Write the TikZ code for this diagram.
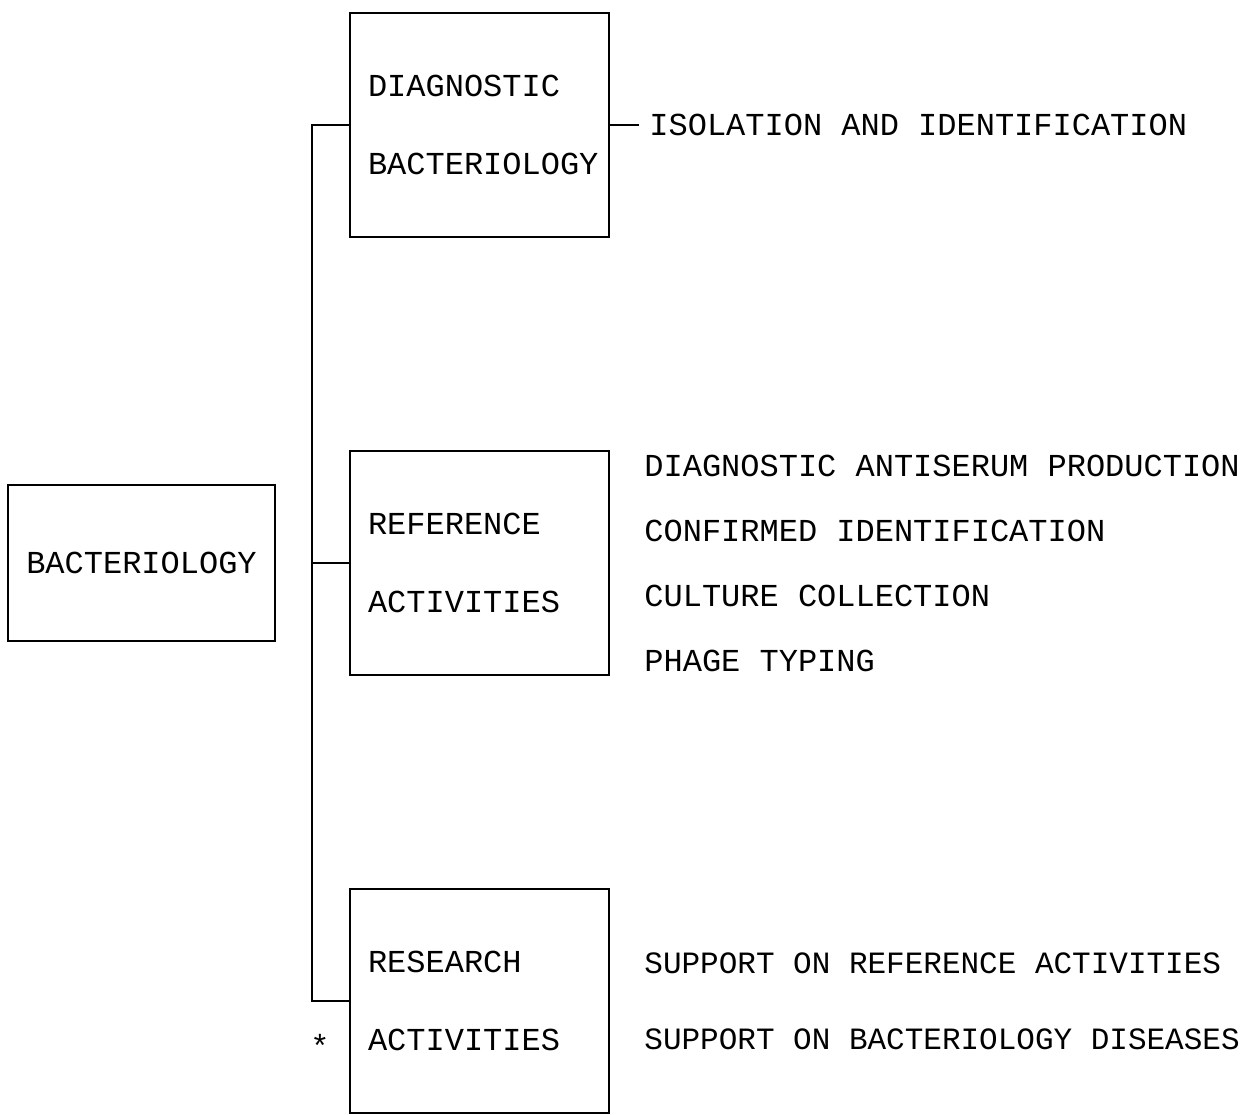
\documentclass[tikz,border=0pt]{standalone}
\usepackage{fontspec}
\setmonofont{Liberation Mono}
\usetikzlibrary{positioning}
\tikzset{every node/.style={font=\ttfamily\fontsize{16}{39}\selectfont},
    unit box/.style={draw,line width=1pt,minimum width=129.5pt,
        minimum height=112pt,text width=111.5pt,inner xsep=9pt,align=left},
    head box/.style={draw,line width=1pt,minimum width=133.5pt,
        minimum height=78pt},
    task list/.style={align=left,anchor=west,inner sep=0pt},
    branch/.style={line width=1pt}}

\begin{document}
\begin{tikzpicture}[x=0.5pt,y=-0.5pt]
    \useasboundingbox (0,0) rectangle (1256,1114);
    % the section and its three units
    \node[head box] (bact) at (141.5,563) {BACTERIOLOGY};
    \node[unit box] (diag) at (479.5,124.5) {DIAGNOSTIC\\BACTERIOLOGY};
    \node[unit box] (ref) at (479.5,563) {REFERENCE\\ACTIVITIES};
    \node[unit box] (res) at (479.5,1001) {RESEARCH\\ACTIVITIES};
    % what each unit does
    \node[task list,inner xsep=5pt,right=14.5pt of diag] (iso)
        {ISOLATION AND IDENTIFICATION};
    \node[task list,font=\ttfamily\fontsize{16}{32.5}\selectfont,
        right=17pt of ref] (reftasks)
        {DIAGNOSTIC ANTISERUM PRODUCTION\\CONFIRMED IDENTIFICATION\\
         CULTURE COLLECTION\\PHAGE TYPING};
    \node[task list,font=\ttfamily\fontsize{15.5}{38}\selectfont,
        right=17pt of res] (restasks)
        {SUPPORT ON REFERENCE ACTIVITIES\\SUPPORT ON BACTERIOLOGY DISEASES};
    \node (star) at (320,1046) {*};
    % bus
    \draw[branch] (diag.west) -- ++(-37,0) coordinate (bus) |- (res.west);
    \draw[branch] (ref.west) -- (ref.west -| bus);
    \draw[branch] (diag.east) -- (iso.west);
\end{tikzpicture}
\end{document}
